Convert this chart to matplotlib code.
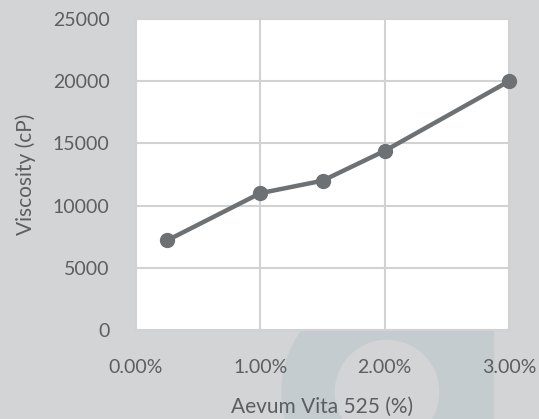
import matplotlib.pyplot as plt
from matplotlib.patches import Wedge, Rectangle
from matplotlib.ticker import FuncFormatter

# data
concentration = [0.25, 1.0, 1.5, 2.0, 3.0]   # Aevum Vita 525 (%)
viscosity = [7200, 11000, 12000, 14400, 20000]  # cP
x_ticks = [0, 1, 2, 3]
y_ticks = [0, 5000, 10000, 15000, 20000, 25000]

bg = '#d3d4d6'
text_col = '#5c5e60'
grid_col = '#d2d2d2'
line_col = '#6e7173'
mark_col = '#c4ccd0'

plt.rcParams['font.family'] = ['Lato', 'DejaVu Sans']

W, H = 539, 419
fig = plt.figure(figsize=(W / 100, H / 100), dpi=100, facecolor=bg)

# faint watermark letter behind the plot, in inches from bottom-left
inch = fig.dpi_scale_trans
fig.patches.append(Wedge((3.87, (H - 392) / 100), 1.05, 0, 360, width=0.52,
                         transform=inch, color=mark_col, zorder=0))
fig.patches.append(Rectangle((4.40, 0), 0.53, 2.2,
                             transform=inch, color=mark_col, zorder=0))

ax = fig.add_axes([136 / W, 1 - 330 / H, (509 - 136) / W, (330 - 19) / H])
ax.set_zorder(2)
ax.set_facecolor('white')

ax.plot(concentration, viscosity, color=line_col, lw=3.2, marker='o',
        markersize=10, markerfacecolor=line_col, markeredgecolor=line_col,
        clip_on=False, zorder=3)

ax.set_xlim(0, 3)
ax.set_ylim(0, 25000)
ax.set_xticks(x_ticks)
ax.set_yticks(y_ticks)
ax.xaxis.set_major_formatter(FuncFormatter(lambda v, p: '%.2f%%' % v))
ax.grid(True, color=grid_col, lw=1.5)
ax.set_axisbelow(True)
for s in ax.spines.values():
    s.set_color(grid_col)
    s.set_linewidth(1.5)

ax.tick_params(axis='both', length=0, labelsize=14, labelcolor=text_col)
ax.tick_params(axis='x', pad=21)
ax.tick_params(axis='y', pad=19)

ax.set_xlabel('Aevum Vita 525 (%)', fontsize=15, color=text_col, labelpad=15)
ax.set_ylabel('Viscosity (cP)', fontsize=15, color=text_col, labelpad=12)

fig.savefig('out.png', dpi=100, facecolor=bg)
